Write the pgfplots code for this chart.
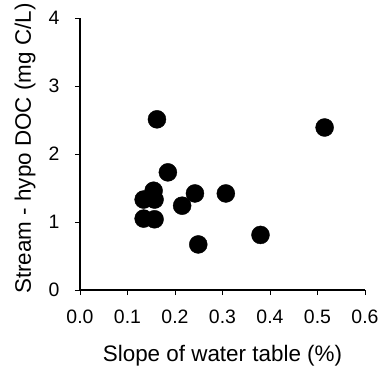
\documentclass[border=0pt]{standalone}
\usepackage{pgfplots}
\pgfplotsset{compat=1.18}
\usepackage{fontspec}
\setmainfont{Liberation Sans}
\begin{document}
\begin{tikzpicture}
\begin{axis}[
 scale only axis, width=285bp, height=272bp,
 at={(0,0)}, anchor=south west,
 xmin=0, xmax=0.6, ymin=0, ymax=4,
 axis lines=left, axis line style={-, line width=1.1pt},
 xtick={0,0.1,0.2,0.3,0.4,0.5,0.6}, ytick={0,1,2,3,4},
 xticklabel style={yshift=-11bp, /pgf/number format/fixed, /pgf/number format/fixed zerofill, /pgf/number format/precision=1},
 /pgf/number format/assume math mode=true,
 tick style={black, line width=1pt},
 tick align=outside, major tick length=5bp,
 ticklabel style={font=\fontsize{19.5}{22}\selectfont},
 yticklabel style={xshift=-12bp},
 xlabel={Slope of water table (\%)},
 ylabel={Stream - hypo DOC (mg C/L)},
 every axis x label/.style={at={(axis description cs:0.5,-0.2426)}, anchor=center, font=\fontsize{22.5}{26}\selectfont},
 every axis y label/.style={at={(axis description cs:-0.193,0.52)}, rotate=90, anchor=center, font=\fontsize{22.5}{26}\selectfont},
]
\addplot[only marks, mark=*, mark size=9bp, black] coordinates {
(0.162,2.51) (0.515,2.39) (0.185,1.73) (0.155,1.46) (0.134,1.33) (0.157,1.33)
(0.242,1.42) (0.307,1.42) (0.215,1.24) (0.134,1.05) (0.157,1.04) (0.249,0.67) (0.380,0.81)
};
\end{axis}
\pgfresetboundingbox
\path[use as bounding box] (-80bp,-78bp) rectangle (301bp,290bp);
\end{tikzpicture}
\end{document}
